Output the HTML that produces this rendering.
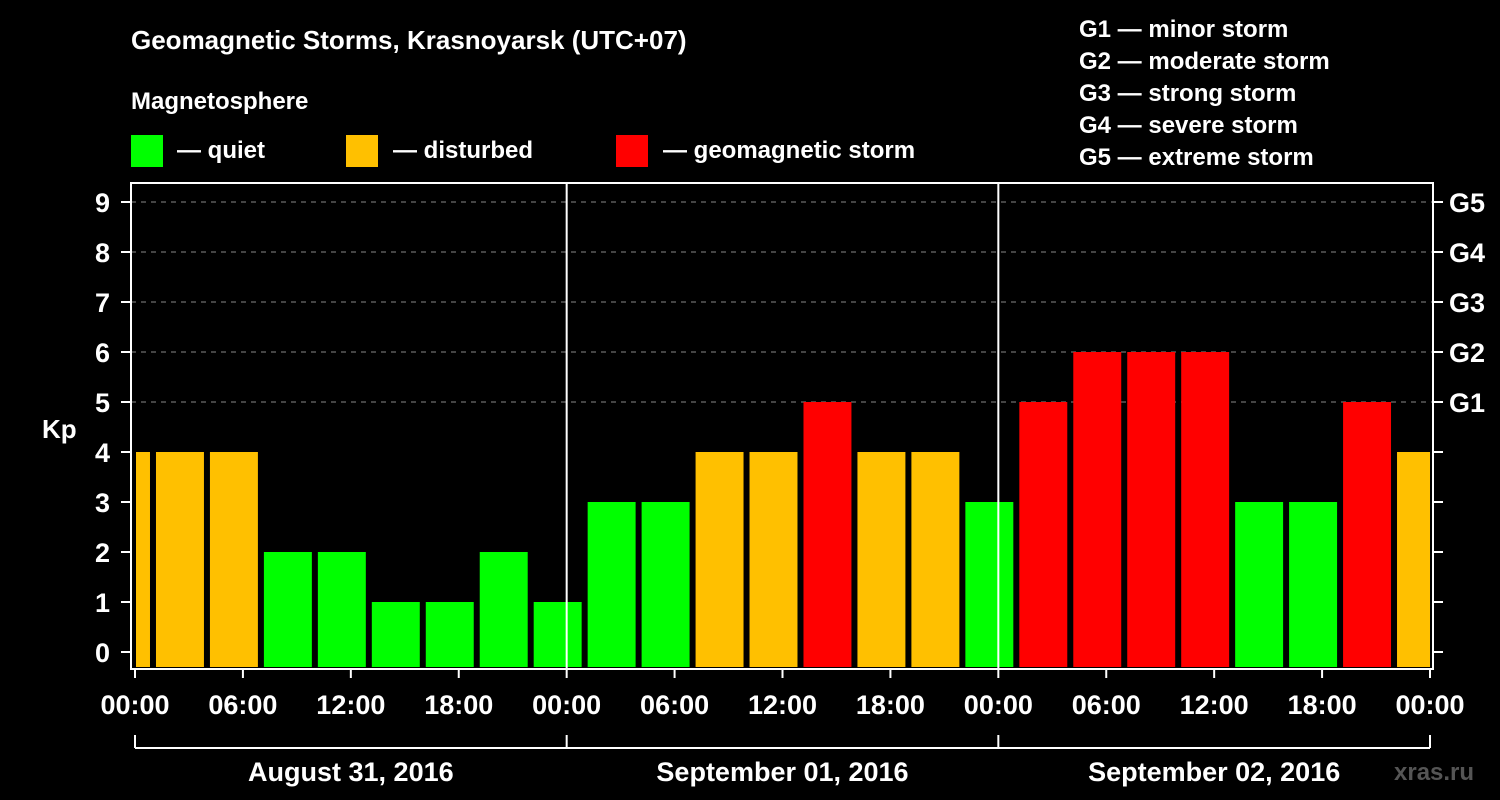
<!DOCTYPE html>
<html><head><meta charset="utf-8"><style>
body{margin:0;background:#000;}
svg{display:block;font-family:"Liberation Sans",Arial,sans-serif;font-weight:bold;}
</style></head><body>
<svg id="chart" width="1500" height="800" viewBox="0 0 1500 800">
<rect width="1500" height="800" fill="#000"/>
<text x="131" y="49" fill="#fff" font-size="26">Geomagnetic Storms, Krasnoyarsk (UTC+07)</text>
<text x="131" y="109" fill="#fff" font-size="24">Magnetosphere</text>
<g><rect x="131" y="135" width="32" height="32" fill="#00ff00"/><text x="177" y="158" fill="#fff" font-size="24">— quiet</text></g>
<g><rect x="346" y="135" width="32" height="32" fill="#ffc000"/><text x="393" y="158" fill="#fff" font-size="24">— disturbed</text></g>
<g><rect x="616" y="135" width="32" height="32" fill="#ff0000"/><text x="663" y="158" fill="#fff" font-size="24">— geomagnetic storm</text></g>
<g fill="#fff" font-size="24">
<text x="1079" y="37">G1 — minor storm</text>
<text x="1079" y="69">G2 — moderate storm</text>
<text x="1079" y="101">G3 — strong storm</text>
<text x="1079" y="133">G4 — severe storm</text>
<text x="1079" y="165">G5 — extreme storm</text>
</g>
<text x="42" y="438" fill="#fff" font-size="26">Kp</text>
<text x="1394" y="780" fill="#555" font-size="24">xras.ru</text>
<g id="plot"></g>
</svg>
<script>
const kpValues=[4,4,4,2,2,1,1,2,1,3,3,4,4,5,4,4,3,5,6,6,6,3,3,5,4];
const barStartHour=-2;
const yTicks=[0,1,2,3,4,5,6,7,8,9];
const gLabels=["G1","G2","G3","G4","G5"];
const gLevels=[5,6,7,8,9];
const xTickLabels=["00:00","06:00","12:00","18:00","00:00","06:00","12:00","18:00","00:00","06:00","12:00","18:00","00:00"];
const dayLabels=["August 31, 2016","September 01, 2016","September 02, 2016"];

const NS="http://www.w3.org/2000/svg";
const g=document.getElementById('plot');
const L=131,R=1433,T=183,B=669,X0=135,X1=1430,H=72;
const x=h=>X0+(X1-X0)*h/H;
const y=v=>652-50*v;
function el(t,a,p){const e=document.createElementNS(NS,t);for(const k in a)e.setAttribute(k,a[k]);(p||g).appendChild(e);return e;}
// grid
gLevels.forEach((v,i)=>{
 const ln=el('line',{x1:L,x2:R,y1:y(v),y2:y(v),stroke:'#888','stroke-dasharray':'5,5','stroke-width':1});
 
 
 const t=el('text',{x:1449,y:y(v)+10,fill:'#fff','font-size':27});t.textContent=gLabels[i];
 
 
});
// bars
kpValues.forEach((v,i)=>{
 let s=barStartHour+3*i, e=s+3;
 let xa=Math.max(x(s)+3,x(0)+1), xb=Math.min(x(e)-3,x(H));
 const c=v>=5?'#ff0000':(v>=4?'#ffc000':'#00ff00');
 const r=el('rect',{x:xa,y:y(v),width:xb-xa,height:B-2-y(v),fill:c});
 
 
});
// day separators
[24,48].forEach(h=>{const l=el('line',{x1:x(h),x2:x(h),y1:T,y2:B,stroke:'#fff','stroke-width':2});
 
 });
// frame
const f=el('rect',{x:L,y:T,width:R-L,height:B-T,fill:'none',stroke:'#fff','stroke-width':2});


// y ticks
yTicks.forEach(v=>{
 el('line',{x1:L-10,x2:L,y1:y(v),y2:y(v),stroke:'#fff','stroke-width':2});
 el('line',{x1:R,x2:R+10,y1:y(v),y2:y(v),stroke:'#fff','stroke-width':2});
 const t=el('text',{x:110,y:y(v)+10,fill:'#fff','font-size':27,'text-anchor':'end'});t.textContent=v;
 
 
});
// x ticks
xTickLabels.forEach((s,i)=>{
 const xx=x(i*6);
 el('line',{x1:xx,x2:xx,y1:B,y2:B+9,stroke:'#fff','stroke-width':2});
 const t=el('text',{x:xx,y:714,fill:'#fff','font-size':27,'text-anchor':'middle'});t.textContent=s;
 
 
});
// day bracket
el('line',{x1:x(0),x2:x(H),y1:748,y2:748,stroke:'#fff','stroke-width':2});
[0,24,48,72].forEach(h=>el('line',{x1:x(h),x2:x(h),y1:735,y2:748,stroke:'#fff','stroke-width':2}));
dayLabels.forEach((s,i)=>{
 const t=el('text',{x:x(i*24+12),y:781,fill:'#fff','font-size':27,'text-anchor':'middle'});t.textContent=s;
 
 
});
</script>
</body></html>
